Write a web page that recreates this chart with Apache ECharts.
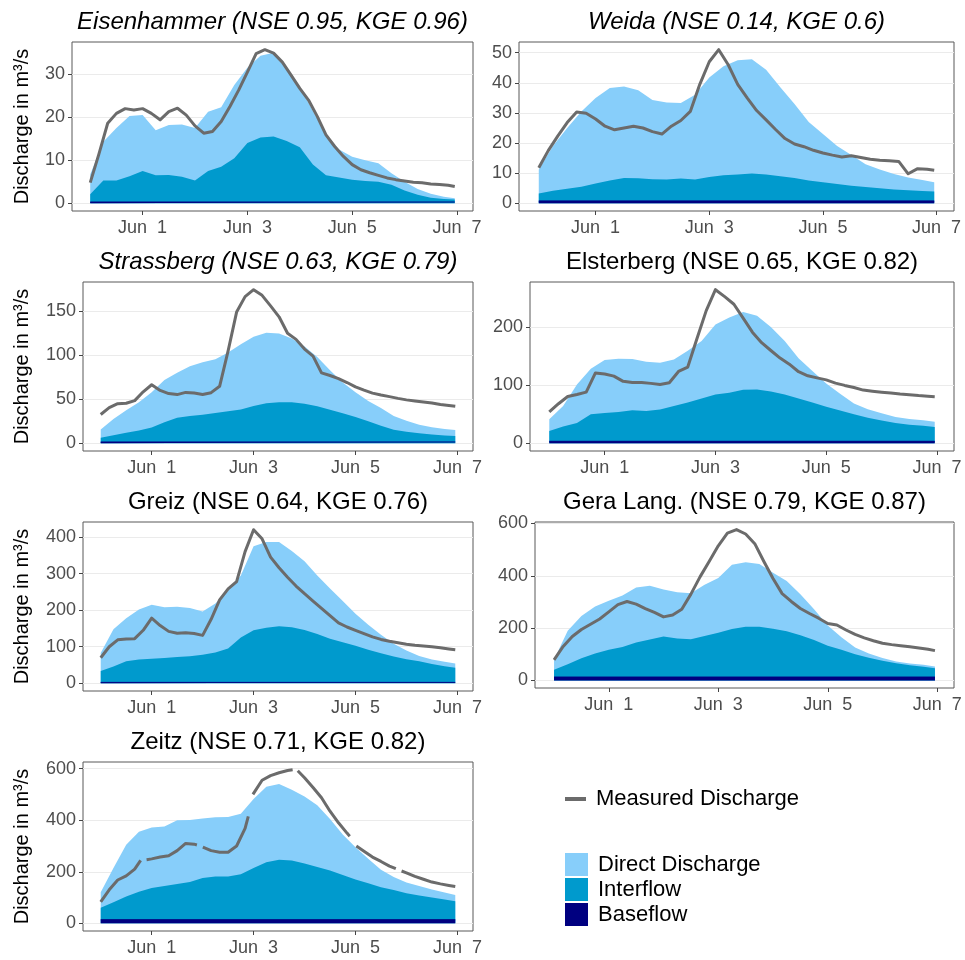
<!DOCTYPE html>
<html><head><meta charset="utf-8">
<script src="https://cdn.jsdelivr.net/npm/echarts@6/dist/echarts.min.js"></script>
<style>html,body{margin:0;padding:0;background:#fff}#c{width:965px;height:960px}</style>
</head><body><div id="c"></div><script>
// ---------- DATA (hours since 31 May 00:00) ----------
const hours4 = [0,4,8,12,16,20,24,28,32,36,40,44,48,52,56,60,64,68,72,76,80,84,88,92,96,100,104,108,112,116,120,124,128,132,136,140,144,148,152,156,160,164,167];
const hours6 = [0,6,12,18,24,30,36,42,48,54,60,66,72,78,84,90,96,102,108,114,120,126,132,138,144,150,156,162,167];
const hoursBase = [0,167];
const zeitzHours = [0,4,8,12,16,18.8,20,21.6,24,28,32,36,40,44,45.3,46.5,48.1,52,56,60,64,68,69.5,70.5,71.7,76,80,84,88,90.4,91.5,92.8,96,100,104,108,112,116,117.3,119,120.4,124,128,132,136,139,140.3,141.7,144,148,152,156,160,164,167];

const xTickHours = [24,72,120,168];
const xTickLabels = ['Jun  1','Jun  3','Jun  5','Jun  7'];

const panelTitles = ['Eisenhammer (NSE 0.95, KGE 0.96)','Weida (NSE 0.14, KGE 0.6)','Strassberg (NSE 0.63, KGE 0.79)','Elsterberg (NSE 0.65, KGE 0.82)','Greiz (NSE 0.64, KGE 0.76)','Gera Lang. (NSE 0.79, KGE 0.87)','Zeitz (NSE 0.71, KGE 0.82)'];
const yTickValues = [[0,10,20,30],[0,10,20,30,40,50],[0,50,100,150],[0,100,200],[0,100,200,300,400],[0,200,400,600],[0,200,400,600]];
const yAxisTitle = 'Discharge in m³/s';
const legendLine = 'Measured Discharge';
const legendAreas = ['Direct Discharge','Interflow','Baseflow'];

// Eisenhammer
const eisenMeasured = [4.8,11.5,18.6,20.9,22.0,21.7,22.0,20.9,19.4,21.3,22.1,20.5,18.0,16.3,16.7,19.0,22.5,26.3,30.5,34.8,35.7,34.9,32.8,29.8,26.7,24.0,20.2,15.9,13.2,10.9,9.0,7.8,7.1,6.5,5.9,5.5,5.2,4.9,4.8,4.5,4.4,4.2,3.9];
const eisenTotal = [6.7,14.3,17.5,20.3,20.5,17.0,18.2,18.3,17.5,21.3,22.3,27.5,31.5,34.3,35.0,31.5,27.0,21.5,16.0,12.5,10.8,10.0,9.3,7.0,5.0,3.3,2.2,1.5,1.2];
const eisenInterTop = [2.1,5.3,5.3,6.3,7.5,6.5,6.6,6.2,5.3,7.5,8.5,10.5,14.0,15.3,15.5,14.5,13.0,9.0,6.5,6.0,5.5,5.2,5.0,4.3,3.0,2.0,1.3,1.0,0.9];
const eisenBase = [0.3,0.3];
// Weida
const weidaMeasured = [11.8,17.5,22.3,26.8,30.3,29.9,28.0,25.6,24.4,25.0,25.6,25.0,23.8,23.0,25.6,27.5,30.5,39.5,47.0,51.0,46.0,39.5,35.0,30.8,27.7,24.5,21.5,19.7,18.8,17.6,16.7,16.0,15.4,15.8,15.2,14.6,14.3,14.1,13.9,9.8,11.5,11.3,11.0];
const weidaTotal = [11.2,19.0,25.0,30.5,35.0,38.3,38.8,37.5,34.3,33.5,33.3,36.0,41.8,45.5,47.5,47.8,44.3,38.5,33.0,27.0,23.0,19.0,16.0,13.0,11.2,9.7,8.6,7.7,7.0];
const weidaInterTop = [3.3,4.2,4.8,5.5,6.6,7.6,8.4,8.3,8.0,7.9,8.2,7.9,8.7,9.3,9.6,9.9,9.6,9.0,8.4,7.6,7.0,6.4,5.8,5.4,5.0,4.6,4.3,4.1,3.9];
const weidaBase = [0.8,0.8];
// Strassberg
const strassMeasured = [32.7,40.5,45.0,45.5,48.5,58.5,66.5,60.0,56.5,55.3,57.8,57.0,55.5,57.5,64.7,105.0,149.0,166.5,174.4,168.0,156.0,143.6,125.0,118.0,107.0,99.0,80.0,77.0,73.5,69.0,64.0,60.3,57.0,54.8,53.0,51.0,49.3,48.0,46.8,45.7,44.0,43.0,42.1];
const strassTotal = [15.8,27.5,37.5,46.5,58.0,72.0,80.0,87.5,92.0,95.5,103.0,112.5,121.0,125.5,124.8,119.0,110.0,98.0,83.0,69.0,58.0,48.0,40.0,31.0,25.5,21.0,18.2,16.3,15.0];
const strassInterTop = [6.4,9.3,12.0,14.5,18.0,24.0,29.0,31.0,32.5,34.5,36.5,38.5,42.5,45.5,46.6,46.6,45.0,42.0,38.0,34.0,30.0,25.0,20.0,15.5,13.0,11.5,10.0,9.0,8.3];
const strassBase = [1.5,1.5];
// Elsterberg
const elsterMeasured = [54.0,68.0,80.5,84.0,88.0,121.0,119.0,115.5,106.5,104.5,104.5,103.0,101.0,104.0,123.5,131.0,180.0,228.0,264.0,252.0,239.0,215.0,191.0,173.0,159.5,146.5,136.0,123.0,116.0,112.5,109.0,103.5,99.5,96.0,91.5,89.5,87.8,86.3,84.6,83.4,82.0,81.0,80.2];
const elsterTotal = [41.3,64.0,101.0,128.0,143.0,145.5,144.8,140.0,138.5,144.0,159.0,176.0,204.0,216.0,225.5,219.0,200.0,176.0,146.0,124.4,103.0,85.0,68.5,58.5,51.5,45.3,42.0,39.5,37.2];
const elsterInterTop = [21.2,28.7,35.0,50.0,52.0,54.0,57.0,55.6,58.0,64.0,70.0,77.0,84.0,87.0,92.0,92.5,89.0,84.0,77.0,70.0,63.0,56.5,50.0,44.0,39.0,35.0,32.0,30.0,28.0];
const elsterBase = [3.5,3.5];
// Greiz
const greizMeasured = [70,100,119,121,122,145,178,158,142,137,138,136,131,175,228,258,278,360,420,395,345,316,290,266,245,225,205,185,165,154,145,136,127,120,115,111,107,104,102,100,97,94,92];
const greizTotal = [83,148,178,202,215,208,209,206,196,218,253,295,375,386,386,362,334,295,259,225,190,160,133,108,90,75,65,59,54];
const greizInterTop = [33.5,46,60,65,67,69,72,74,78,84,95,125,145,152,156,153,146,135,122,112,103,92,82,73,66,60,53,47,42.5];
const greizBase = [2.5,2.5];
// Gera Langenberg
const geraMeasured = [79,130,168,195,215,235,262,290,302,292,275,260,243,250,272,330,396,455,515,563,577,560,523,455,390,332,302,275,256,238,218,212,193,176,163,152,142,137,133,129,124,119,114];
const geraTotal = [79,190,246,283,305,325,355,362,348,337,333,366,392,442,452,445,412,380,330,272,210,165,126,103,86,72,65,60,53];
const geraInterTop = [40.7,62,85,103,117,128,145,157,168,160,158,170,182,197,205,205,198,188,173,155,133,117,100,87,75,66,58,52,47];
const geraBase = [13,13];
// Zeitz (null = missing measurement)
const zeitzMeasured = [83,130,168,184,210,244,null,247,250,257,262,282,310,307,304,null,296,282,276,276,300,368,415,null,500,555,573,584,593,596,null,592,565,527,487,435,390,350,338,null,300,280,257,240,222,212,null,203,196,182,171,160,153,147,143];
const zeitzTotal = [121,215,305,355,372,376,400,401,407,411,412,425,482,530,540,518,492,458,405,345,295,250,208,180,158,145,131,120,110];
const zeitzInterTop = [60,82,104,122,137,145,153,160,176,182,182,190,215,237,247,244,232,218,205,187,170,155,140,129,117,108,100,92,86];
const zeitzBase = [14,14];

const measuredHours = [hours4,hours4,hours4,hours4,hours4,hours4,zeitzHours];
const measured = [eisenMeasured,weidaMeasured,strassMeasured,elsterMeasured,greizMeasured,geraMeasured,zeitzMeasured];
const totals = [eisenTotal,weidaTotal,strassTotal,elsterTotal,greizTotal,geraTotal,zeitzTotal];
const interTops = [eisenInterTop,weidaInterTop,strassInterTop,elsterInterTop,greizInterTop,geraInterTop,zeitzInterTop];
const bases = [eisenBase,weidaBase,strassBase,elsterBase,greizBase,geraBase,zeitzBase];

// ---------- LAYOUT / STYLE ----------
const FONT = '"Liberation Sans", Arial, Helvetica, sans-serif';
const layout = [
  {left:72, top:42, width:401, height:169, yName:true, nameGap:40},
  {left:519, top:42, width:435, height:169, yName:false},
  {left:83, top:282, width:390, height:169, yName:true, nameGap:51},
  {left:530, top:282, width:424, height:169, yName:false},
  {left:83, top:522, width:390, height:169, yName:true, nameGap:51},
  {left:535, top:522, width:419, height:166, yName:false},
  {left:83, top:762, width:390, height:169, yName:true, nameGap:51}
];
const titleY = [22,22,262,262,502,502,742];
const COL_DIRECT = '#87CEFA', COL_INTER = '#009ACD', COL_BASE = '#000080', COL_MEAS = '#6b6b6b';
const xMin = -8.35, xMax = 175.35;

const zip = (h, v) => h.map((t, k) => [t, v[k] == null ? '-' : v[k]]);

const grids = [], xAxes = [], yAxes = [], series = [], graphics = [];
layout.forEach((L, i) => {
  grids.push({left:L.left, top:L.top, width:L.width, height:L.height, show:true, borderColor:'#595959', borderWidth:1, containLabel:false});
  xAxes.push({
    type:'value', gridIndex:i, min:xMin, max:xMax,
    splitLine:{show:false}, axisLine:{show:false, onZero:false},
    axisTick:{show:true, length:4, lineStyle:{color:'#444'}, customValues:xTickHours},
    axisLabel:{customValues:xTickHours, formatter:v => xTickLabels[xTickHours.indexOf(v)] || '', fontSize:18, color:'#4d4d4d', margin:8, fontFamily:FONT}
  });
  const vals = measured[i].concat(totals[i]).filter(v => v != null);
  const mx = Math.max.apply(null, vals);
  const ya = {
    type:'value', gridIndex:i, min:-0.05*mx, max:1.05*mx,
    axisLine:{show:false, onZero:false},
    axisTick:{show:true, length:4, lineStyle:{color:'#444'}, customValues:yTickValues[i]},
    axisLabel:{customValues:yTickValues[i], fontSize:18, color:'#4d4d4d', margin:7, fontFamily:FONT},
    splitLine:{show:true, lineStyle:{color:'#ebebeb', width:1}}
  };
  if (L.yName) {
    Object.assign(ya, {name:yAxisTitle, nameLocation:'middle', nameGap:L.nameGap, nameRotate:90,
      nameTextStyle:{fontSize:20, color:'#000', fontFamily:FONT}});
  }
  yAxes.push(ya);
  const common = {type:'line', xAxisIndex:i, yAxisIndex:i, showSymbol:false, symbol:'none', silent:true, animation:false};
  series.push(Object.assign({}, common, {name:legendAreas[0], data:zip(hours6, totals[i]), itemStyle:{color:COL_DIRECT}, lineStyle:{width:0, color:COL_DIRECT}, areaStyle:{color:COL_DIRECT, opacity:1}}));
  series.push(Object.assign({}, common, {name:legendAreas[1], data:zip(hours6, interTops[i]), itemStyle:{color:COL_INTER}, lineStyle:{width:0, color:COL_INTER}, areaStyle:{color:COL_INTER, opacity:1}}));
  series.push(Object.assign({}, common, {name:legendAreas[2], data:zip(hoursBase, bases[i]), itemStyle:{color:COL_BASE}, lineStyle:{width:1, color:COL_BASE}, areaStyle:{color:COL_BASE, opacity:1}}));
  series.push(Object.assign({}, common, {name:legendLine, data:zip(measuredHours[i], measured[i]), connectNulls:false, itemStyle:{color:COL_MEAS}, lineStyle:{width:3, color:COL_MEAS, join:'round', cap:'butt'}, z:3}));
  graphics.push({type:'text', x:L.left + L.width/2, y:titleY[i], silent:true,
    style:{text:panelTitles[i], fill:'#000', font:(i < 3 ? 'italic ' : '') + '24px ' + FONT,
      align:'center', verticalAlign:'middle', textAlign:'center', textVerticalAlign:'middle'}});
});

const chart = echarts.init(document.getElementById('c'), null, {renderer:'canvas'});
chart.setOption({
  animation:false,
  backgroundColor:'#ffffff',
  textStyle:{fontFamily:FONT},
  grid:grids, xAxis:xAxes, yAxis:yAxes, series:series, graphic:graphics,
  legend:[
    {data:[{name:legendLine, icon:'rect'}], left:565, top:788, padding:0, itemWidth:21, itemHeight:4, selectedMode:false,
     textStyle:{fontSize:22, color:'#000', fontFamily:FONT, padding:[0,0,0,5]}},
    {data:legendAreas.map(n => ({name:n, icon:'rect'})), orient:'vertical', left:565, top:853, padding:0, itemWidth:23, itemHeight:23, itemGap:2, selectedMode:false,
     textStyle:{fontSize:22, color:'#000', fontFamily:FONT, padding:[0,0,0,5]}}
  ]
});
</script></body></html>
